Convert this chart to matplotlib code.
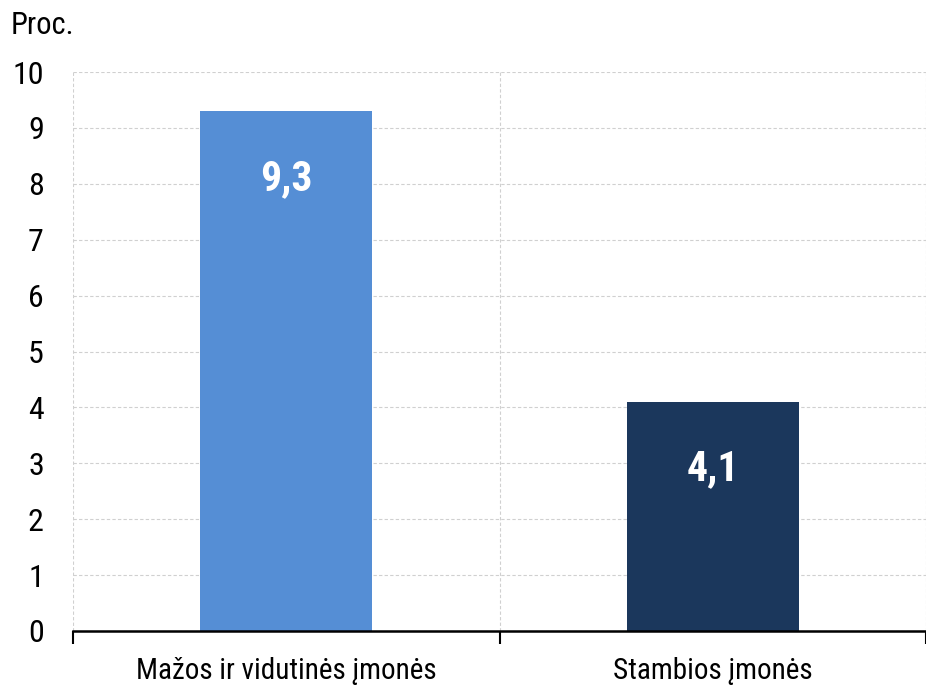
import matplotlib
matplotlib.use("Agg")
import matplotlib.pyplot as plt
from matplotlib import font_manager

categories = ["Mažos ir vidutinės įmonės", "Stambios įmonės"]
values = [9.3, 4.1]
labels = ["9,3", "4,1"]
colors = ["#558ed5", "#1b375c"]

# Arial Narrow look-alike if one is installed
names = {f.name for f in font_manager.fontManager.ttflist}
fam = "Liberation Sans"
narrow = False
for cand in ["Liberation Sans Narrow", "Arial Narrow", "Arimo Narrow", "Roboto Condensed",
             "Archivo Narrow", "PT Sans Narrow", "Pragati Narrow"]:
    if cand in names:
        fam = cand
        narrow = True
        break
plt.rcParams["font.family"] = [fam, "DejaVu Sans"]
fs = 23 if narrow else 19
fs_x = 21 if narrow else 18
fs_val = 30 if narrow else 25

fig = plt.figure(figsize=(9.26, 6.85), dpi=100)
ax = fig.add_axes([73 / 926, 1 - 631 / 685, 853 / 926, 559 / 685])

x = list(range(len(categories)))
ax.bar(x, values, width=0.403, color=colors, zorder=3)
for xi, v, lab in zip(x, values, labels):
    ax.text(xi, v - 1.2, lab, ha="center", va="center", color="white",
            fontsize=fs_val, fontweight="bold", zorder=4)

ax.set_xlim(-0.5, 1.5)
ax.set_ylim(0, 10)
ax.set_yticks(range(0, 11))
ax.set_xticks(x)
ax.set_xticklabels(categories)
ax.set_xticks([-0.5, 0.5, 1.5], minor=True)
ax.tick_params(axis="x", which="major", length=0, pad=19, labelsize=fs_x)
ax.tick_params(axis="x", which="minor", length=9, width=1.5, color="black")
ax.tick_params(axis="y", length=0, pad=21, labelsize=fs)

ax.grid(axis="y", color="#d0d0d0", linestyle=(0, (3, 2)), linewidth=0.8, zorder=0)
ax.grid(axis="x", which="minor", color="#d0d0d0", linestyle=(0, (3, 2)), linewidth=0.8, zorder=0)
for s in ["top", "right", "left"]:
    ax.spines[s].set_visible(False)
ax.spines["bottom"].set_linewidth(1.8)
ax.spines["bottom"].set_zorder(5)

fig.text(11 / 926, 1 - 25 / 685, "Proc.", fontsize=fs - 1, va="center", ha="left")

fig.savefig("out.png", dpi=100)
